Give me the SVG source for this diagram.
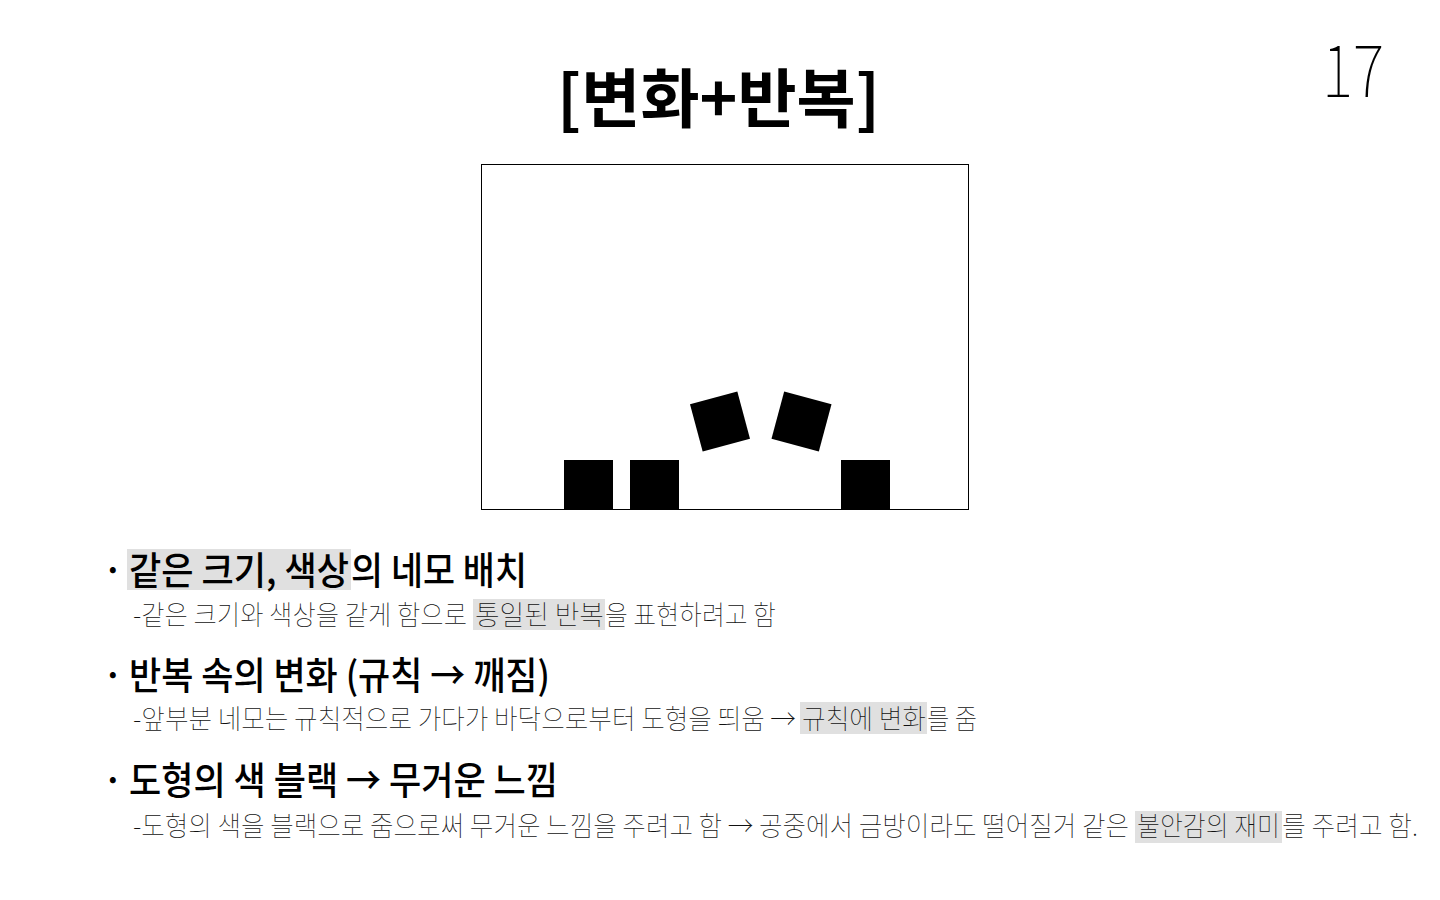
<svg xmlns="http://www.w3.org/2000/svg" width="1440" height="900" viewBox="0 0 1440 900">
  <style>
    .title { font-family: "Noto Sans CJK KR", "Noto Sans", sans-serif; font-weight: 700; font-size: 64px; fill: #000; }
    .page { font-family: "Noto Sans CJK KR", "Noto Sans", sans-serif; font-weight: 100; font-size: 72px; fill: #000; }
    .head { font-family: "Noto Sans CJK KR", "Noto Sans", sans-serif; font-weight: 500; font-size: 38px; fill: #000; }
    .sub { font-family: "Noto Sans CJK KR", "Noto Sans", sans-serif; font-weight: 100; font-size: 27px; fill: #111; }
    .hl { fill: #e0e0e0; }
    .sq { fill: #000; }
  </style>
  <rect width="1440" height="900" fill="#fff"/>

  <g id="title">
    <text class="title" x="557" y="122" textLength="323" lengthAdjust="spacingAndGlyphs">[변화+반복]</text>
  </g>
  <g id="page-number">
    <text class="page" x="1322" y="97" textLength="62" lengthAdjust="spacingAndGlyphs">17</text>
  </g>

  <g id="frame">
    <rect x="481.5" y="164.5" width="487" height="345" fill="#fff" stroke="#000" stroke-width="1"/>
  </g>
  <g id="squares">
    <rect class="sq" x="564" y="460" width="49" height="49.5"/>
    <rect class="sq" x="630" y="460" width="49" height="49.5"/>
    <rect class="sq" x="841" y="460" width="49" height="49.5"/>
    <rect class="sq" x="-24.5" y="-24.5" width="49" height="49" transform="translate(720,421.5) rotate(-15)"/>
    <rect class="sq" x="-24.5" y="-24.5" width="49" height="49" transform="translate(801.5,421.5) rotate(15)"/>
  </g>

  <g id="item1">
    <rect class="hl" x="127" y="549" width="224" height="41"/>
    <text class="head" x="102" y="584">·</text>
    <text class="head" transform="translate(129,584) scale(0.8644,1)" textLength="254.5" lengthAdjust="spacingAndGlyphs">같은 크기, 색상</text>
    <text class="head" transform="translate(351,584) scale(0.8502,1)" textLength="207" lengthAdjust="spacingAndGlyphs">의 네모 배치</text>
    <rect class="hl" x="473" y="599" width="132" height="31"/>
    <text class="sub" transform="translate(133,625) scale(0.8696,1)" textLength="384.1" lengthAdjust="spacingAndGlyphs">-같은 크기와 색상을 같게 함으로</text>
    <text class="sub" transform="translate(475,625) scale(0.9146,1)" textLength="141.05" lengthAdjust="spacingAndGlyphs">통일된 반복</text>
    <text class="sub" transform="translate(605,625) scale(0.8503,1)" textLength="201.1" lengthAdjust="spacingAndGlyphs">을 표현하려고 함</text>
  </g>

  <g id="item2">
    <text class="head" x="102" y="689">·</text>
    <text class="head" transform="translate(129,689) scale(0.8671,1)" textLength="485.5" lengthAdjust="spacingAndGlyphs">반복 속의 변화 (규칙 → 깨짐)</text>
    <rect class="hl" x="800" y="702" width="127" height="32"/>
    <text class="sub" transform="translate(133,729) scale(0.8802,1)" textLength="753.25" lengthAdjust="spacingAndGlyphs">-앞부분 네모는 규칙적으로 가다가 바닥으로부터 도형을 띄움 →</text>
    <text class="sub" transform="translate(802,729) scale(0.8791,1)" textLength="141.05" lengthAdjust="spacingAndGlyphs">규칙에 변화</text>
    <text class="sub" transform="translate(927,729) scale(0.8326,1)" textLength="60.05" lengthAdjust="spacingAndGlyphs">를 줌</text>
  </g>

  <g id="item3">
    <text class="head" x="102" y="794">·</text>
    <text class="head" transform="translate(129,794) scale(0.8606,1)" textLength="498.5" lengthAdjust="spacingAndGlyphs">도형의 색 블랙 → 무거운 느낌</text>
    <rect class="hl" x="1135" y="811" width="147" height="32"/>
    <text class="sub" transform="translate(133,836) scale(0.8779,1)" textLength="1134.5" lengthAdjust="spacingAndGlyphs">-도형의 색을 블랙으로 줌으로써 무거운 느낌을 주려고 함 → 공중에서 금방이라도 떨어질거 같은</text>
    <text class="sub" transform="translate(1137,836) scale(0.8509,1)" textLength="168.05" lengthAdjust="spacingAndGlyphs">불안감의 재미</text>
    <text class="sub" transform="translate(1282,836) scale(0.884,1)" textLength="153.85" lengthAdjust="spacingAndGlyphs">를 주려고 함.</text>
  </g>
</svg>
